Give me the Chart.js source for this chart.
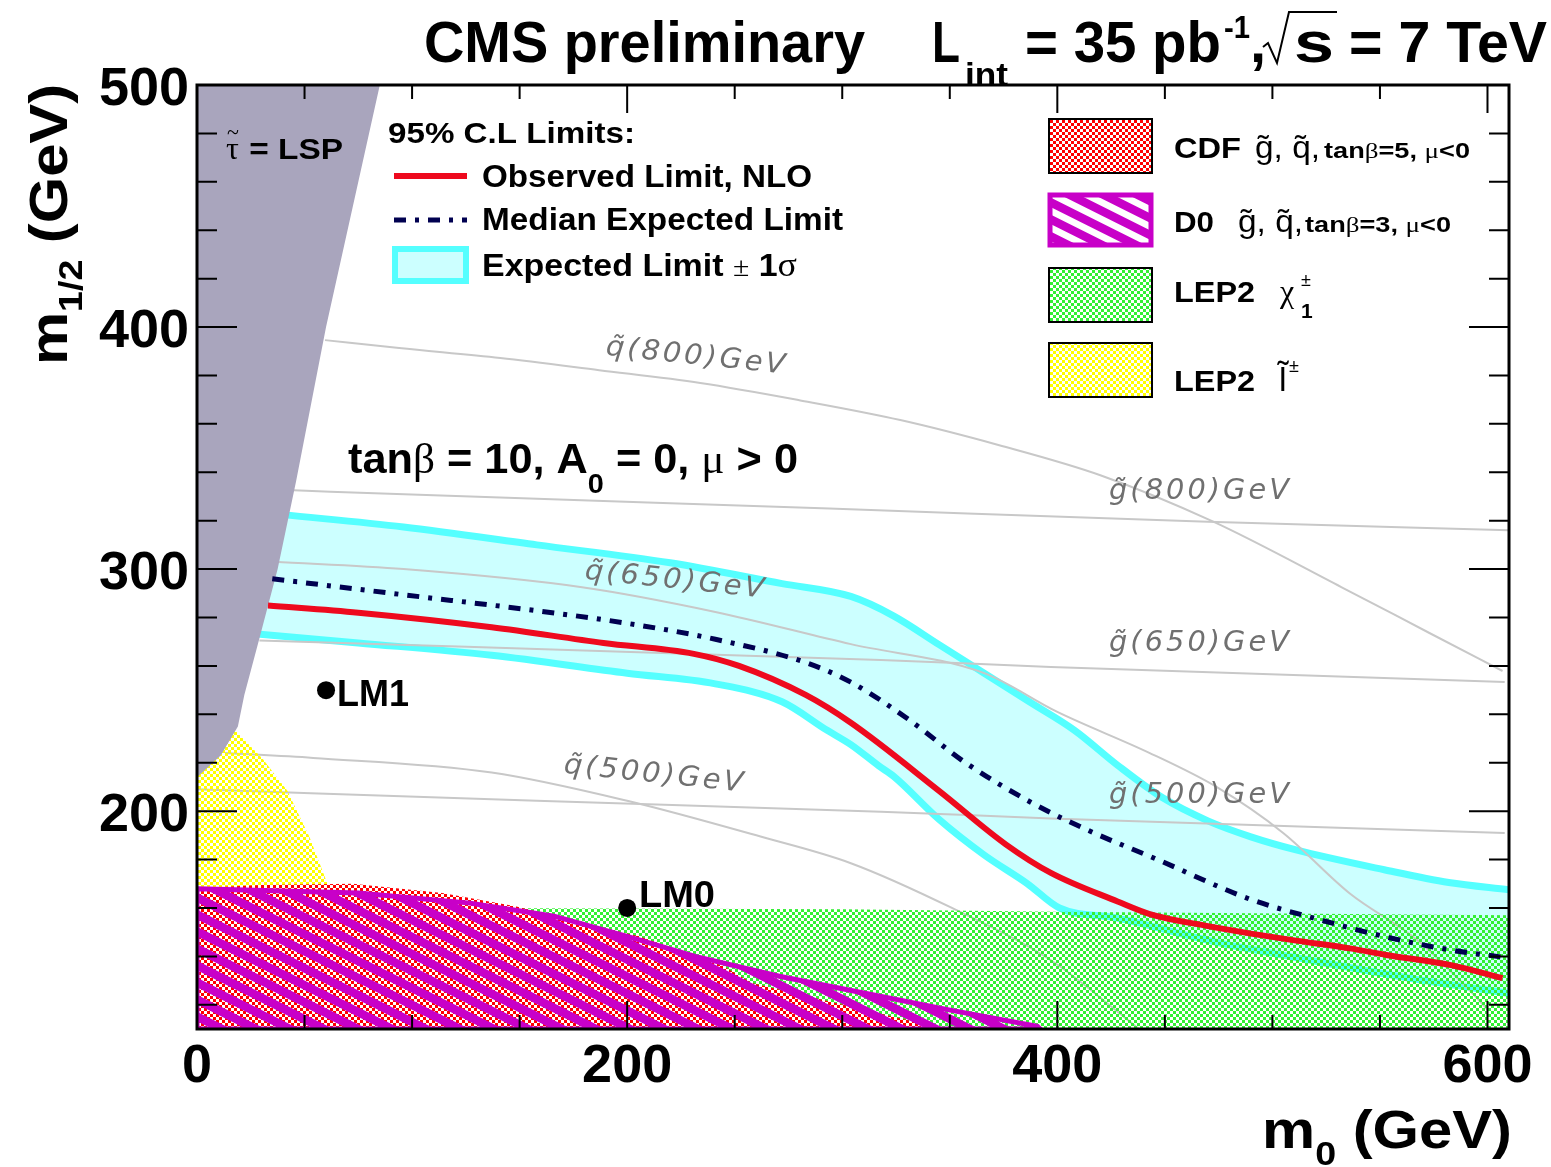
<!DOCTYPE html>
<html>
<head>
<meta charset="utf-8">
<title>CMS preliminary - mSUGRA exclusion, 35 pb-1</title>
<script src="https://cdn.jsdelivr.net/npm/chart.js@4.4.1/dist/chart.umd.min.js"></script>
<style>
  html, body { margin: 0; padding: 0; background: #fff; }
  canvas { display: block; }
</style>
</head>
<body>
<canvas id="c" width="1551" height="1167"></canvas>
<script>
// Axis ticks and labels (m0 / m1/2 in GeV)
const xTicks  = [0, 50, 100, 150, 200, 250, 300, 350, 400, 450, 500, 550, 600];
const xLabels = [0, 200, 400, 600];
const yTicks  = [120, 140, 160, 180, 200, 220, 240, 260, 280, 300, 320, 340, 360, 380, 400, 420, 440, 460, 480, 500];
const yLabels = [200, 300, 400, 500];

// Observed limit (NLO)
const obsX = [33, 75, 137, 189, 231, 252, 283, 304, 345, 376, 397, 428, 443, 470, 490, 511, 536, 553, 583, 607];
const obsY = [285, 282, 276, 269.5, 265, 260, 248, 236.5, 208.4, 186.3, 174.5, 162.7, 157.5, 152.5, 149.4, 146.5, 143.3, 140.6, 136.4, 131];

// Median expected limit
const medX = [35, 96, 158, 200, 241, 283, 304, 331, 357, 387, 414, 446, 490, 521, 553, 583, 606];
const medY = [296, 289.4, 282.8, 277.6, 271, 261.4, 253.3, 237.8, 220.2, 204, 192.2, 180.2, 163.5, 155.4, 148, 142.6, 139.8];

// Expected limit +/- 1 sigma band edges
const upX = [40, 96, 158, 220, 272, 304, 324, 345, 366, 387, 408, 428, 449, 470, 490, 511, 552, 582, 610];
const upY = [322.5, 317.4, 310, 302.6, 294, 288.7, 280.6, 268.8, 257, 245.2, 233.4, 219, 205.5, 196, 189.4, 184, 175.8, 170.5, 167.5];
const loX = [28, 75, 137, 200, 241, 272, 293, 304, 317, 324, 345, 366, 386, 401, 428, 472, 520, 567, 610];
const loY = [273.2, 269.5, 264.4, 257, 252.6, 245.2, 233.4, 227.5, 218.7, 214.3, 196.6, 181.9, 170.1, 160, 155.8, 146.2, 138, 130.5, 124.7];

// Iso-mass contours (squark / gluino)
const sq800X = [59.5, 94, 141, 187, 234, 280, 327, 373, 420, 472, 532, 573, 607];
const sq800Y = [394.6, 391.3, 387.2, 382.2, 376.9, 369.8, 361.6, 351.2, 338.8, 319.8, 292.6, 273.6, 257.9];
const sq650X = [36, 96, 179, 241, 304, 366, 400, 443, 474, 505, 536, 567, 590, 600];
const sq650Y = [303, 300, 292.5, 282.3, 269, 257, 241, 224, 210, 191, 166, 147, 127.5, 118];
const sq500X = [13, 54, 137, 200, 262, 304, 351, 397, 438];
const sq500Y = [224, 222, 216, 204.3, 189.5, 178.5, 160, 138.4, 110];
const gl800X = [45, 62, 294, 470, 610];
const gl800Y = [332.6, 332, 325, 319.6, 316];
const gl650X = [29, 318, 397, 608];
const gl650Y = [270.5, 262.4, 259.6, 253.4];
const gl500X = [0, 158, 318, 397, 608];
const gl500Y = [209, 204.3, 199.8, 197, 191];

// Excluded / forbidden regions (outlines)
const lspX = [0, 85, 60, 46, 37.5, 29.5, 22, 19, 11, 0];
const lspY = [500, 500, 400, 336, 300, 273, 248, 235, 223, 214];
const slepX = [0, 17, 30.5, 42, 52.3, 60.6, 64, 64, 0];
const slepY = [214, 234, 221.6, 208.4, 189.3, 170.1, 160, 110, 110];
const cdfX = [0, 30, 72.5, 114, 148, 179.5, 205.5, 244.6, 258, 297, 336, 345, 0];
const cdfY = [168.3, 169.5, 170, 166.2, 160.7, 153.8, 148.3, 136, 129, 120.7, 112.5, 110, 110];
const d0X = [0, 75, 127, 166, 200, 231.6, 270.7, 310, 349, 390.7, 392, 0];
const d0Y = [167.9, 166.2, 162, 156.6, 148.3, 140, 131.8, 124.9, 118, 111.1, 110, 110];
const charX = [0, 300, 400, 610, 610, 0];
const charY = [160.3, 159.5, 158.4, 157, 110, 110];

// Benchmark points LM0, LM1
const lmX = [200, 60];
const lmY = [160, 250];

const SANS = '"Liberation Sans", Arial, sans-serif';
const SERIF = '"Liberation Serif", "DejaVu Serif", serif';
const canvas = document.getElementById('c');
const ctx0 = canvas.getContext('2d');

// checker patterns (3px cells, gaps left transparent like ROOT style 3001)
function checker(col) {
  const n = 3;
  const c = document.createElement('canvas');
  c.width = 2 * n; c.height = 2 * n;
  const g = c.getContext('2d');
  g.fillStyle = col;
  g.fillRect(0, 0, n, n);
  g.fillRect(n, n, n, n);
  return ctx0.createPattern(c, 'repeat');
}
// diagonal "\" hatch for the D0 region
function hatch(col) {
  const w = 34, h = 17;
  const c = document.createElement('canvas');
  c.width = w; c.height = h;
  const g = c.getContext('2d');
  g.strokeStyle = col;
  g.lineWidth = 8.5;
  for (let k = -2; k <= 2; k++) {
    g.beginPath();
    g.moveTo(k * w - w, -h);
    g.lineTo(k * w + 2 * w, 2 * h);
    g.stroke();
  }
  return ctx0.createPattern(c, 'repeat');
}

const RED_P = checker('#ff0000');
const GREEN_P = checker('#33f033');
const YELLOW_P = checker('#ffff00');
const D0_P = hatch('#c800c8');

function pts(xs, ys) { return xs.map((x, i) => ({ x: x, y: ys[i] })); }
function poly(xs, ys) { const p = pts(xs, ys); p.push(p[0]); return p; }

function area(label, data, bg, order, extra) {
  return Object.assign({
    label: label, data: data, showLine: true, fill: 'shape',
    backgroundColor: bg, borderColor: 'rgba(0,0,0,0)', borderWidth: 0,
    pointRadius: 0, tension: 0, order: order
  }, extra || {});
}
function curve(label, data, color, width, order, extra) {
  return Object.assign({
    label: label, data: data, showLine: true, fill: false,
    borderColor: color, borderWidth: width, pointRadius: 0,
    cubicInterpolationMode: 'monotone', order: order
  }, extra || {});
}

// band polygon = upper edge then lower edge backwards
const bandPoly = pts(upX, upY).concat(pts(loX, loY).reverse());

// Text helper: several font parts on one baseline, optionally squeezed to a width
function fnt(p) {
  return (p.i ? 'italic ' : '') + (p.b ? 'bold ' : '') + p.s + 'px ' + (p.f || (p.g ? SERIF : SANS));
}
function rich(ctx, parts, x, y, o) {
  o = o || {};
  ctx.save();
  ctx.letterSpacing = o.ls || '0px';
  let tot = 0;
  const ws = parts.map(p => { ctx.font = fnt(p); const w = ctx.measureText(p.t).width; tot += w; return w; });
  const sx = o.w ? o.w / tot : 1;
  ctx.translate(x, y);
  if (o.rot) ctx.rotate(o.rot);
  if (o.align === 'center') ctx.translate(-tot * sx / 2, 0);
  if (o.align === 'right') ctx.translate(-tot * sx, 0);
  ctx.scale(sx, 1);
  ctx.fillStyle = o.c || '#000';
  ctx.textBaseline = o.base || 'alphabetic';
  ctx.textAlign = 'left';
  let cx = 0;
  parts.forEach((p, i) => { ctx.font = fnt(p); ctx.fillText(p.t, cx, p.dy || 0); cx += ws[i]; });
  ctx.restore();
}

const decor = {
  id: 'decor',
  beforeDraw(chart) {
    const c = chart.ctx;
    c.save();
    c.fillStyle = '#fff';
    c.fillRect(0, 0, chart.width, chart.height);
    c.restore();
  },
  afterDatasetsDraw(chart) {
    const c = chart.ctx, xs = chart.scales.x, ys = chart.scales.y, a = chart.chartArea;
    const deg = Math.PI / 180;

    // iso-mass labels
    const GL = { c: '#707070', ls: '3px', w: 183, base: 'middle' };
    const it = t => [{ t: t, s: 28, i: 1, f: '"DejaVu Sans", sans-serif' }];
    rich(c, it('q\u0303(800)GeV'), 697, 357, Object.assign({ align: 'center', rot: 6 * deg }, GL));
    rich(c, it('q\u0303(650)GeV'), 676, 581, Object.assign({ align: 'center', rot: 6 * deg }, GL));
    rich(c, it('q\u0303(500)GeV'), 655, 775, Object.assign({ align: 'center', rot: 6 * deg }, GL));
    rich(c, it('g\u0303(800)GeV'), 1109, 492, GL);
    rich(c, it('g\u0303(650)GeV'), 1109, 644, GL);
    rich(c, it('g\u0303(500)GeV'), 1109, 796, GL);

    // in-plot annotations
    rich(c, [{ t: '\u03c4', s: 32, g: 1 }], 226, 159);
    rich(c, [{ t: '~', s: 22, g: 1 }], 227, 139);
    rich(c, [{ t: ' = LSP', s: 30, b: 1 }], 240, 159, { w: 103 });
    rich(c, [{ t: 'tan', s: 42, b: 1 }, { t: '\u03b2', s: 42, g: 1 }, { t: ' = 10, A', s: 42, b: 1 },
             { t: '0', s: 28, b: 1, dy: 20 }, { t: ' = 0, ', s: 42, b: 1 }, { t: '\u03bc', s: 42, g: 1 },
             { t: ' > 0', s: 42, b: 1 }], 348, 473, { w: 450 });
    rich(c, [{ t: 'LM1', s: 36, b: 1 }], 337, 706, { w: 72 });
    rich(c, [{ t: 'LM0', s: 36, b: 1 }], 639, 907, { w: 76 });

    // left legend
    rich(c, [{ t: '95% C.L Limits:', s: 30, b: 1 }], 388, 143, { w: 247 });
    c.save();
    c.lineCap = 'butt';
    c.strokeStyle = '#ee0a1e'; c.lineWidth = 6;
    c.beginPath(); c.moveTo(394, 176); c.lineTo(467, 176); c.stroke();
    c.strokeStyle = '#000050'; c.lineWidth = 5; c.setLineDash([12, 9, 4, 9]);
    c.beginPath(); c.moveTo(394, 220); c.lineTo(467, 220); c.stroke();
    c.setLineDash([]);
    c.fillStyle = '#ccffff'; c.fillRect(395, 249, 71, 32);
    c.strokeStyle = '#55ffff'; c.lineWidth = 6; c.strokeRect(395, 249, 71, 32);
    c.restore();
    rich(c, [{ t: 'Observed Limit, NLO', s: 32, b: 1 }], 482, 187, { w: 330 });
    rich(c, [{ t: 'Median Expected Limit', s: 32, b: 1 }], 482, 230, { w: 361 });
    rich(c, [{ t: 'Expected Limit ', s: 32, b: 1 }, { t: '\u00b1', s: 28, g: 1 }, { t: ' 1', s: 32, b: 1 },
             { t: '\u03c3', s: 34, g: 1 }], 482, 276, { w: 315 });

    // right legend boxes
    c.save();
    c.fillStyle = RED_P; c.fillRect(1049, 119, 103, 54);
    c.fillStyle = GREEN_P; c.fillRect(1049, 268, 103, 54);
    c.fillStyle = YELLOW_P; c.fillRect(1049, 343, 103, 54);
    c.strokeStyle = '#000'; c.lineWidth = 2;
    c.strokeRect(1049, 119, 103, 54); c.strokeRect(1049, 268, 103, 54); c.strokeRect(1049, 343, 103, 54);
    c.fillStyle = D0_P; c.fillRect(1050, 195, 101, 50);
    c.strokeStyle = '#c800c8'; c.lineWidth = 5; c.strokeRect(1050, 195, 101, 50);
    c.restore();
    rich(c, [{ t: 'CDF', s: 30, b: 1 }], 1174, 158, { w: 67 });
    rich(c, [{ t: 'g\u0303, q\u0303,', s: 31 }], 1255, 158, { w: 65 });
    rich(c, [{ t: 'tan', s: 22, b: 1 }, { t: '\u03b2', s: 22, g: 1 }, { t: '=5, ', s: 22, b: 1 },
             { t: '\u03bc', s: 22, g: 1 }, { t: '<0', s: 22, b: 1 }], 1324, 158, { w: 146 });
    rich(c, [{ t: 'D0', s: 30, b: 1 }], 1174, 232, { w: 40 });
    rich(c, [{ t: 'g\u0303, q\u0303,', s: 31 }], 1238, 232, { w: 65 });
    rich(c, [{ t: 'tan', s: 22, b: 1 }, { t: '\u03b2', s: 22, g: 1 }, { t: '=3, ', s: 22, b: 1 },
             { t: '\u03bc', s: 22, g: 1 }, { t: '<0', s: 22, b: 1 }], 1305, 232, { w: 146 });
    rich(c, [{ t: 'LEP2', s: 30, b: 1 }], 1174, 302, { w: 81 });
    rich(c, [{ t: '\u03c7', s: 32, g: 1 }], 1280, 302);
    rich(c, [{ t: '\u00b1', s: 18 }], 1301, 286);
    rich(c, [{ t: '1', s: 21, b: 1 }], 1301, 318);
    rich(c, [{ t: 'LEP2', s: 30, b: 1 }], 1174, 391, { w: 81 });
    rich(c, [{ t: 'l\u0303', s: 34 }], 1279, 391);
    rich(c, [{ t: '\u00b1', s: 18 }], 1289, 372);

    // frame and inward ticks
    c.save();
    c.strokeStyle = '#000';
    c.lineWidth = 2;
    xTicks.forEach(v => {
      const px = xs.getPixelForValue(v);
      const len = xLabels.includes(v) ? 28 : 14;
      c.beginPath();
      c.moveTo(px, a.bottom); c.lineTo(px, a.bottom - len);
      c.moveTo(px, a.top); c.lineTo(px, a.top + len);
      c.stroke();
    });
    yTicks.forEach(v => {
      const py = ys.getPixelForValue(v);
      const len = yLabels.includes(v) ? 40 : 20;
      c.beginPath();
      c.moveTo(a.left, py); c.lineTo(a.left + len, py);
      c.moveTo(a.right, py); c.lineTo(a.right - len, py);
      c.stroke();
    });
    c.lineWidth = 3;
    c.strokeRect(a.left, a.top, a.right - a.left, a.bottom - a.top);
    c.restore();

    // tick labels
    xLabels.forEach(v => rich(c, [{ t: String(v), s: 54, b: 1 }], xs.getPixelForValue(v), 1082, { align: 'center' }));
    yLabels.forEach(v => rich(c, [{ t: String(v), s: 54, b: 1 }], 189, ys.getPixelForValue(v) + 20, { align: 'right' }));

    // axis titles
    rich(c, [{ t: 'm', s: 54, b: 1 }, { t: '0', s: 34, b: 1, dy: 17 }, { t: ' (GeV)', s: 54, b: 1 }], 1262, 1148, { w: 250 });
    rich(c, [{ t: 'm', s: 54, b: 1 }, { t: '1/2', s: 34, b: 1, dy: 15 }, { t: ' (GeV)', s: 54, b: 1 }], 67, 365,
         { w: 281, rot: -Math.PI / 2 });

    // title
    rich(c, [{ t: 'CMS preliminary', s: 58, b: 1 }], 424, 62, { w: 441 });
    rich(c, [{ t: 'L', s: 58, b: 1 }], 932, 62, { w: 28 });
    rich(c, [{ t: 'int', s: 34, b: 1 }], 965, 86, { w: 43 });
    rich(c, [{ t: '= 35 pb', s: 58, b: 1 }], 1025, 62, { w: 196 });
    rich(c, [{ t: '-1', s: 32, b: 1 }], 1224, 38, { w: 26 });
    rich(c, [{ t: ',', s: 58, b: 1 }], 1250, 62);
    c.save();
    c.strokeStyle = '#000'; c.lineWidth = 2;
    c.beginPath();
    c.moveTo(1263, 47); c.lineTo(1268, 43); c.lineTo(1277, 63); c.lineTo(1289, 12); c.lineTo(1337, 12);
    c.stroke();
    c.restore();
    rich(c, [{ t: 's', s: 58, b: 1 }], 1294, 62, { w: 40 });
    rich(c, [{ t: '= 7 TeV', s: 58, b: 1 }], 1349, 62, { w: 198 });
  }
};

new Chart(canvas, {
  type: 'scatter',
  data: {
    datasets: [
      { label: 'LM points', data: pts(lmX, lmY), showLine: false, pointRadius: 9, pointHoverRadius: 9,
        backgroundColor: '#000', borderColor: '#000', borderWidth: 0, order: 0 },
      curve('Observed Limit, NLO', pts(obsX, obsY), '#ee0a1e', 6, 1),
      curve('Median Expected Limit', pts(medX, medY), '#000050', 5, 2, { borderDash: [12, 9, 4, 9] }),
      area('stau LSP', poly(lspX, lspY), '#a9a5bd', 3),
      area('D0', poly(d0X, d0Y), D0_P, 4, { borderColor: '#c800c8', borderWidth: 5 }),
      area('CDF', poly(cdfX, cdfY), RED_P, 5),
      area('LEP2 slepton', poly(slepX, slepY), YELLOW_P, 6),
      area('LEP2 chargino', poly(charX, charY), GREEN_P, 7),
      curve('sq800', pts(sq800X, sq800Y), '#c8c8c8', 2, 8),
      curve('sq650', pts(sq650X, sq650Y), '#c8c8c8', 2, 8),
      curve('sq500', pts(sq500X, sq500Y), '#c8c8c8', 2, 8),
      curve('gl800', pts(gl800X, gl800Y), '#c8c8c8', 2, 8),
      curve('gl650', pts(gl650X, gl650Y), '#c8c8c8', 2, 8),
      curve('gl500', pts(gl500X, gl500Y), '#c8c8c8', 2, 8),
      curve('band up', pts(upX, upY), '#55ffff', 7, 9),
      curve('band low', pts(loX, loY), '#55ffff', 7, 9),
      area('Expected Limit +-1 sigma', bandPoly, '#ccffff', 10)
    ]
  },
  options: {
    responsive: false,
    devicePixelRatio: 1,
    animation: false,
    layout: { padding: { left: 197, right: 42, top: 85, bottom: 138 } },
    plugins: { legend: { display: false }, tooltip: { enabled: false } },
    events: [],
    scales: {
      x: { type: 'linear', min: 0, max: 610, display: false },
      y: { type: 'linear', min: 110, max: 500, display: false }
    }
  },
  plugins: [decor]
});
</script>
</body>
</html>
